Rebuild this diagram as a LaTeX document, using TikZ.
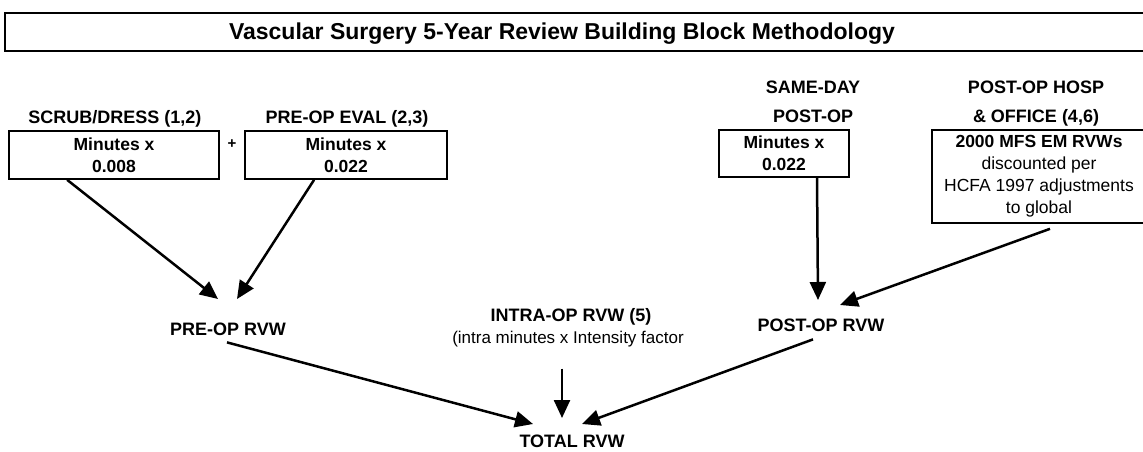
\documentclass[tikz,border=0pt]{standalone}
\usepackage{fontspec}
\setmainfont{Liberation Sans}
\usetikzlibrary{arrows.meta,calc}
\begin{document}
\begin{tikzpicture}[x=1pt,y=-1pt,
  lbl/.style={font=\fontsize{18}{22}\selectfont\bfseries, inner sep=0pt, anchor=base},
  lbln/.style={font=\fontsize{17}{22}\selectfont, inner sep=0pt, anchor=base},
  boxn/.style={draw, line width=1.8pt, inner sep=0pt, align=center, anchor=north, font=\fontsize{17.5}{22}\selectfont\bfseries},
  arr/.style={line width=2.5pt, -{Triangle[length=18pt,width=16pt]}},
]
\useasboundingbox (0,0) rectangle (1143,451);
% title
\node[draw, line width=1.6pt, minimum width=1146pt, minimum height=38pt, anchor=north west, inner sep=0pt] (titlebox) at (4,12) {};
\node[font=\fontsize{23}{28}\selectfont\bfseries, inner sep=0pt, anchor=base] (title) at (562,39) {Vascular Surgery 5-Year Review Building Block Methodology};
% top-left blocks
\node[lbl] (scrubl) at (115,123) {SCRUB/DRESS (1,2)};
\node[boxn, minimum width=210pt, minimum height=48pt] (scrub) at (114,130) {Minutes x\\0.008};
\node[font=\fontsize{15}{16}\selectfont\bfseries, inner sep=0pt] (plus) at (232,144) {+};
\node[lbl] (evall) at (347,123) {PRE-OP EVAL (2,3)};
\node[boxn, minimum width=202pt, minimum height=48pt] (eval) at (346,130) {Minutes x\\0.022};
% top-right blocks
\node[lbl] (samel1) at (813,93) {SAME-DAY};
\node[lbl] (samel2) at (813,122) {POST-OP};
\node[boxn, minimum width=130pt, minimum height=47pt] (same) at (784,129) {Minutes x\\0.022};
\node[lbl] (hospl1) at (1036,93) {POST-OP HOSP};
\node[lbl] (hospl2) at (1036,122) {\&\ OFFICE (4,6)};
\node[boxn, font=\fontsize{17.5}{22}\selectfont, minimum width=214pt, minimum height=93pt] (hosp) at (1039,129) {{\bfseries 2000 MFS EM RVWs}\\discounted per\\HCFA 1997 adjustments\\to global};
% middle
\node[lbl] (prervw) at (228,335) {PRE-OP RVW};
\node[lbl] (intra) at (571,321) {INTRA-OP RVW (5)};
\node[lbln] (intra2) at (568,343) {(intra minutes x Intensity factor};
\node[lbl] (postrvw) at (821,331) {POST-OP RVW};
\node[lbl] (total) at (572,447) {TOTAL RVW};
% arrow tips
\coordinate (tipA) at (218,299);
\coordinate (tipB) at (237,299);
\coordinate (tipC) at (818,300);
\coordinate (tipD) at (840,305);
\coordinate (tipE) at (533,424);
\coordinate (tipF) at (562,418);
\coordinate (tipG) at (582,424);
% connectors
\draw[arr] ($(scrub.south west)+(59,0)$) -- (tipA);
\draw[arr] ($(eval.south west)+(70,0)$) -- (tipB);
\draw[arr] ($(same.south)+(33,0)$) -- (tipC);
\draw[arr] ($(hosp.south)+(11,5)$) -- (tipD);
\draw[arr] ($(prervw.south)+(-1,7)$) -- (tipE);
\draw[arr] ($(intra2.south)+(-6,22)$) -- (tipF);
\draw[arr] ($(postrvw.south)+(-8,8)$) -- (tipG);
\end{tikzpicture}
\end{document}
